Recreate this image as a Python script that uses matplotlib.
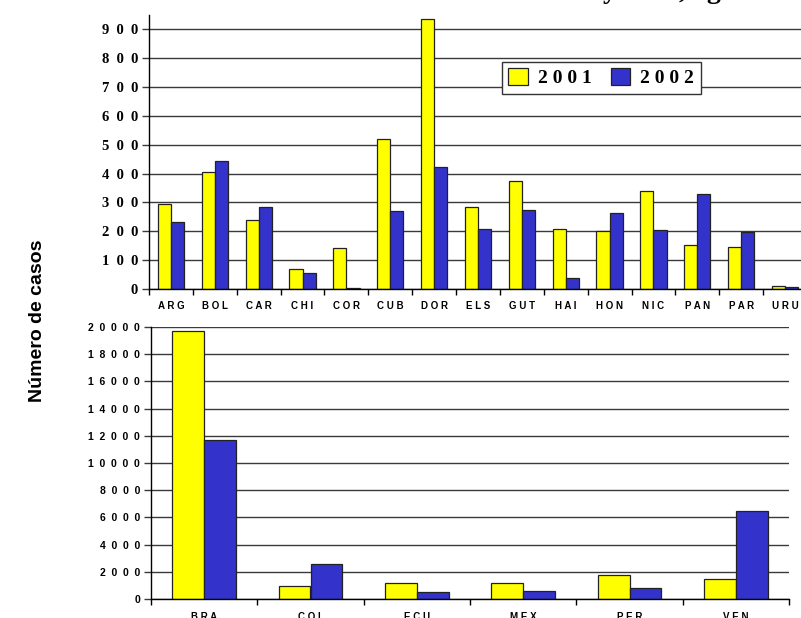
import numpy as np
import matplotlib.pyplot as plt
from matplotlib.ticker import FixedLocator

# paises pequenos (panel superior)
paises1 = ['ARG', 'BOL', 'CAR', 'CHI', 'COR', 'CUB', 'DOR', 'ELS',
           'GUT', 'HAI', 'HON', 'NIC', 'PAN', 'PAR', 'URU']
casos1_2001 = [294, 405, 240, 69, 142, 521, 935, 285, 376, 207, 200, 339, 152, 144, 10]
casos1_2002 = [232, 443, 283, 57, 5, 272, 422, 207, 273, 37, 265, 203, 328, 197, 6]

# paises grandes (panel inferior)
paises2 = ['BRA', 'COL', 'ECU', 'MEX', 'PER', 'VEN']
casos2_2001 = [19700, 960, 1180, 1150, 1770, 1450]
casos2_2002 = [11690, 2570, 515, 590, 800, 6440]

amarillo = '#FFFF00'
azul = '#3333CC'
borde = '#222222'
grid_col = '#3a3a3a'


def spaced(s, sep=' '):
    return sep.join(list(s))


fig = plt.figure(figsize=(8.01, 6.18), dpi=100)
ax1 = fig.add_axes([149 / 801, 1 - 289 / 618, 658 / 801, 274 / 618])
ax2 = fig.add_axes([151 / 801, 1 - 599 / 618, 638 / 801, 272 / 618])


def panel(ax, paises, v1, v2, ymax, step, yfont, ysep, yfs):
    n = len(paises)
    x = np.arange(n)
    ax.set_axisbelow(True)
    b1 = ax.bar(x - 0.15, v1, 0.3, color=amarillo, edgecolor=borde, linewidth=0.9, label=spaced('2001'))
    b2 = ax.bar(x + 0.15, v2, 0.3, color=azul, edgecolor=borde, linewidth=0.9, label=spaced('2002'))
    ax.set_xlim(-0.5, n - 0.5)
    ax.set_ylim(0, ymax)
    yt = np.arange(0, ymax + 1, step)
    ax.set_yticks(yt)
    ax.set_yticklabels([spaced(str(int(v)), ysep) for v in yt],
                       fontfamily=yfont, fontweight='bold', fontsize=yfs)
    ax.yaxis.grid(True, color=grid_col, linewidth=1.0)
    ax.set_xticks(x)
    ax.set_xticklabels([spaced(p) for p in paises], fontfamily='Liberation Sans',
                       fontweight='bold', fontsize=7)
    ax.xaxis.set_minor_locator(FixedLocator(np.arange(n + 1) - 0.5))
    ax.tick_params(axis='x', which='major', length=0, pad=9)
    ax.tick_params(axis='x', which='minor', length=4, width=1, color='black', direction='out')
    ax.tick_params(axis='y', length=5, width=1, color=grid_col, pad=3)
    for s in ['top', 'right']:
        ax.spines[s].set_visible(False)
    for s in ['left', 'bottom']:
        ax.spines[s].set_color('black')
        ax.spines[s].set_linewidth(1.0)
    return b1, b2


panel(ax1, paises1, casos1_2001, casos1_2002, 950, 100, 'Liberation Serif', '  ', 10.5)
panel(ax2, paises2, casos2_2001, casos2_2002, 20000, 2000, 'Liberation Sans', '  ', 7.5)

leg = ax1.legend(loc='upper left', bbox_to_anchor=(0.536, 0.83), ncol=2,
                 prop={'family': 'Liberation Serif', 'weight': 'bold', 'size': 14},
                 frameon=True, fancybox=False, framealpha=1, edgecolor='#333333',
                 handlelength=1.0, handleheight=0.9, handletextpad=0.5,
                 columnspacing=1.0, borderpad=0.35, borderaxespad=0)
leg.get_frame().set_linewidth(1.0)

fig.text(38 / 801, 1 - 321 / 618, 'Número de casos', rotation=90,
         fontfamily='Liberation Sans', fontweight='bold', fontsize=14,
         ha='center', va='center')

# titulo, casi todo fuera del recuadro
fig.text(603 / 801, 1 + 2 / 618, 'y 2002, agosto', fontfamily='Liberation Serif',
         fontweight='bold', fontsize=20, ha='left', va='baseline')

fig.savefig('out.png', dpi=100)
